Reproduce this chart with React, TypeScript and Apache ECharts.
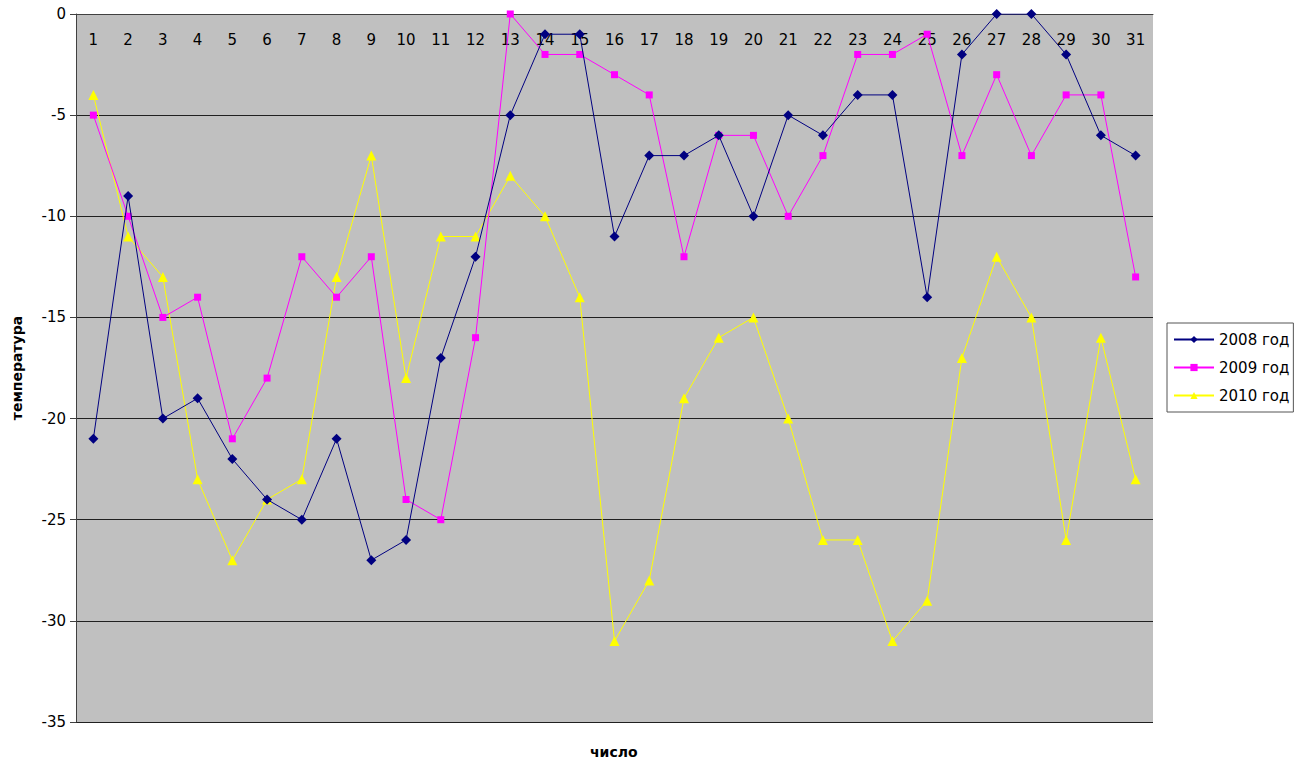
import React, { useEffect, useRef } from "react";
import * as echarts from "echarts";

const days = Array.from({ length: 31 }, (_, i) => String(i + 1));
const seriesNames = ["2008 год", "2009 год", "2010 год"];
const data2008 = [-21, -9, -20, -19, -22, -24, -25, -21, -27, -26, -17, -12, -5, -1, -1, -11, -7, -7, -6, -10, -5, -6, -4, -4, -14, -2, 0, 0, -2, -6, -7];
const data2009 = [-5, -10, -15, -14, -21, -18, -12, -14, -12, -24, -25, -16, 0, -2, -2, -3, -4, -12, -6, -6, -10, -7, -2, -2, -1, -7, -3, -7, -4, -4, -13];
const data2010 = [-4, -11, -13, -23, -27, -24, -23, -13, -7, -18, -11, -11, -8, -10, -14, -31, -28, -19, -16, -15, -20, -26, -26, -31, -29, -17, -12, -15, -26, -16, -23];
const colors = ["#000080", "#FF00FF", "#FFFF00"];
const symbols = ["diamond", "rect", "triangle"];
const symbolSizes = [10, 7, 10];

export default function App() {
  const ref = useRef<HTMLDivElement>(null);
  useEffect(() => {
    const chart = echarts.init(ref.current!, null, { renderer: "svg" });
    const font = "DejaVu Sans";
    const allData = [data2008, data2009, data2010];
    chart.setOption({
      animation: false,
      backgroundColor: "#ffffff",
      textStyle: { fontFamily: font },
      grid: {
        left: 76,
        top: 14,
        width: 1077,
        height: 708,
        show: true,
        backgroundColor: "#C0C0C0",
        borderWidth: 0,
      },
      legend: {
        orient: "vertical",
        left: 1167,
        top: 323,
        backgroundColor: "#ffffff",
        borderColor: "#555555",
        borderWidth: 1,
        padding: [9, 4, 9, 6],
        itemGap: 13,
        itemWidth: 40,
        itemHeight: 9,
        textStyle: { fontFamily: font, fontSize: 15, color: "#000" },
        data: seriesNames,
      },
      xAxis: {
        type: "category",
        data: days,
        position: "top",
        boundaryGap: true,
        axisLine: { onZero: false, lineStyle: { color: "#404040", width: 1 } },
        axisTick: { inside: true, length: 5, lineStyle: { color: "#404040" } },
        axisLabel: { inside: true, margin: 18, fontSize: 15, color: "#000", fontFamily: font },
        splitLine: { show: false },
      },
      yAxis: {
        type: "value",
        min: -35,
        max: 0,
        interval: 5,
        name: "температура",
        nameLocation: "middle",
        nameGap: 52,
        nameTextStyle: { fontWeight: "bold", fontSize: 14, color: "#000", fontFamily: font },
        axisLine: { show: true, lineStyle: { color: "#404040", width: 1 } },
        axisTick: { show: true, length: 6, lineStyle: { color: "#404040" } },
        axisLabel: { fontSize: 15, color: "#000", margin: 10, fontFamily: font },
        splitLine: { show: true, lineStyle: { color: "#202020", width: 1 } },
      },
      graphic: [
        {
          type: "text",
          left: 590,
          top: 745,
          style: { text: "число", font: "bold 14px DejaVu Sans", fill: "#000" },
        },
      ],
      series: seriesNames.map((name, i) => ({
        name,
        type: "line",
        data: allData[i],
        symbol: symbols[i],
        symbolSize: symbolSizes[i],
        showAllSymbol: true,
        lineStyle: { color: colors[i], width: 1 },
        itemStyle: { color: colors[i] },
        z: 3 - i,
      })),
    });
    return () => chart.dispose();
  }, []);
  return (
    <div
      ref={ref}
      style={{ position: "fixed", left: 0, top: 0, width: 1295, height: 762 }}
    />
  );
}
